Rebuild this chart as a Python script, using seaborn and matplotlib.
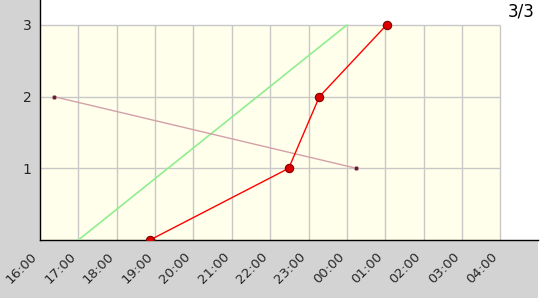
import matplotlib
matplotlib.use("Agg")
import matplotlib.pyplot as plt
import matplotlib.dates as mdates
from matplotlib.patches import Rectangle
import pandas as pd
import seaborn as sns

# ---- data ----
red_times = ["18:52", "22:29", "23:17", "01:02"]
red_values = [0, 1, 2, 3]
brown_times = ["16:22", "00:15"]
brown_values = [2, 1]
green_times = ["17:00", "00:00"]
green_values = [0, 3]
x_tick_labels = ["16:00", "17:00", "18:00", "19:00", "20:00", "21:00", "22:00",
                 "23:00", "00:00", "01:00", "02:00", "03:00", "04:00"]
y_ticks = [1, 2, 3]
page_label = "3/3"

base = pd.Timestamp("2024-01-01")


def to_time(s):
    h, m = map(int, s.split(":"))
    day = 0 if h >= 12 else 1
    return base + pd.Timedelta(days=day, hours=h, minutes=m)


sns.set_style("white")
plt.rcParams["font.family"] = ["DejaVu Sans"]

fig = plt.figure(figsize=(5.4, 3.0), dpi=100, facecolor="white")
fig.patches.append(Rectangle((0, 2 / 300), 538 / 540, 298 / 300,
                             transform=fig.transFigure, facecolor="#d3d3d3",
                             edgecolor="none", zorder=-10))
ax = fig.add_axes([40 / 540, 60 / 300, 498 / 540, 240 / 300])
ax.set_facecolor("white")

xt = [to_time(s) for s in x_tick_labels]
x0 = mdates.date2num(xt[0])
x1 = mdates.date2num(xt[-1])
hour = 1 / 24

# plot area background + grid
ax.add_patch(Rectangle((x0, 0), x1 - x0, max(y_ticks), facecolor="#ffffec",
                       edgecolor="none", zorder=0))
ax.vlines([mdates.date2num(t) for t in xt[1:]], 0, max(y_ticks),
          colors="#c8c8c8", linewidth=1, zorder=1)
ax.hlines(y_ticks, x0, x1, colors="#c8c8c8", linewidth=1, zorder=1)

green = pd.DataFrame({"t": [to_time(s) for s in green_times], "v": green_values})
brown = pd.DataFrame({"t": [to_time(s) for s in brown_times], "v": brown_values})
red = pd.DataFrame({"t": [to_time(s) for s in red_times], "v": red_values})

sns.lineplot(data=green, x="t", y="v", sort=False, color="#90ee90",
             linewidth=1.2, ax=ax, zorder=3)
sns.lineplot(data=brown, x="t", y="v", sort=False, color="#d4a0a8",
             linewidth=1.0, marker="o", markersize=3, markerfacecolor="#5a1a2a",
             markeredgecolor="#c090a0", markeredgewidth=0.5, ax=ax, zorder=3)
sns.lineplot(data=red, x="t", y="v", sort=False, color="#ff0000",
             linewidth=1.0, marker="o", markersize=6, markerfacecolor="#dd0000",
             markeredgecolor="#800000", markeredgewidth=0.8, ax=ax, zorder=4)

ax.set_xlim(x0, x0 + 498 / 38.36 * hour)
ax.set_ylim(0, 240 / 71.67)

ax.set_xticks([mdates.date2num(t) for t in xt])
ax.set_xticklabels(x_tick_labels, rotation=45, ha="right", fontsize=9.5)
ax.set_xticks([x0 + (i + 0.5) * hour for i in range(12)], minor=True)
ax.set_yticks(y_ticks)
ax.set_yticklabels([str(v) for v in y_ticks], fontsize=10)
ax.tick_params(axis="both", which="major", direction="in", length=5,
               width=1, color="black")
ax.tick_params(axis="x", which="minor", direction="in", length=3,
               width=1, color="black")
ax.tick_params(axis="x", which="major", pad=7)
ax.tick_params(axis="y", which="major", pad=6)
ax.set_xlabel("")
ax.set_ylabel("")

for s in ["top", "right"]:
    ax.spines[s].set_visible(False)
for s in ["left", "bottom"]:
    ax.spines[s].set_color("black")
    ax.spines[s].set_linewidth(1)

fig.text(535 / 540, 1 - 12 / 300, page_label, ha="right", va="center",
         fontsize=12, color="black")

fig.savefig("out.png", dpi=100, facecolor=fig.get_facecolor())
